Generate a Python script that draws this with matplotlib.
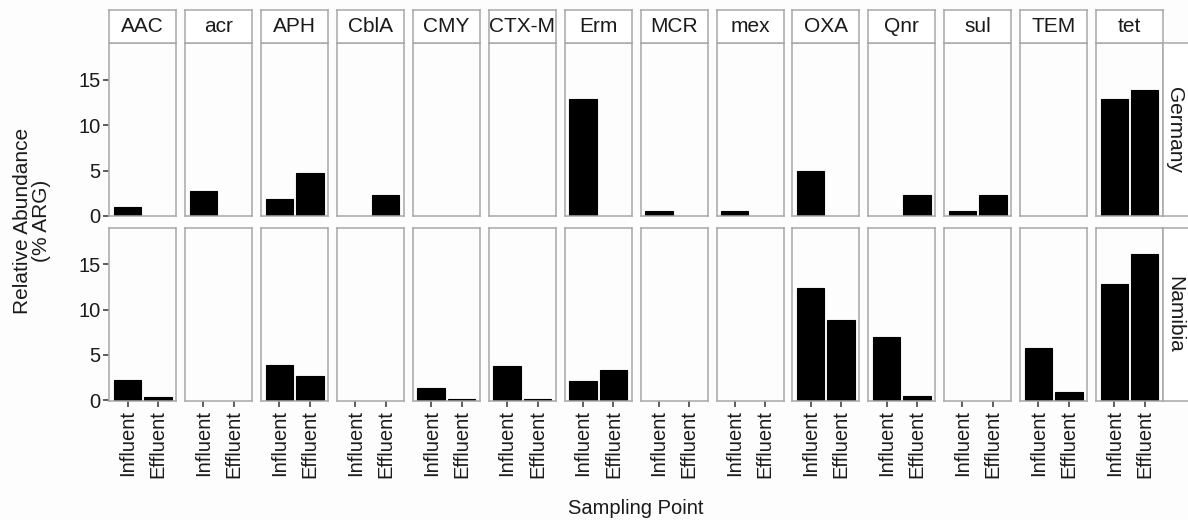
import matplotlib
matplotlib.use("Agg")
import matplotlib.pyplot as plt
from matplotlib.patches import Rectangle

plt.rcParams["font.family"] = ["Liberation Sans", "DejaVu Sans"]

# Gene families (facet columns) and sampling points (x categories)
genes = ["AAC", "acr", "APH", "CblA", "CMY", "CTX-M", "Erm",
         "MCR", "mex", "OXA", "Qnr", "sul", "TEM", "tet"]
points = ["Influent", "Effluent"]
countries = ["Germany", "Namibia"]

# Relative abundance (% ARG); None = not detected
germany_influent = [1.02, 2.74, 1.83, None, None, None, 12.88,
                    0.59, 0.59, 4.94, None, 0.59, None, 12.88]
germany_effluent = [None, None, 4.68, 2.34, None, None, None,
                    None, None, None, 2.34, 2.34, None, 13.87]
namibia_influent = [2.28, None, 3.93, None, 1.32, 3.79, 2.13,
                    None, None, 12.43, 6.99, None, 5.74, 12.8]
namibia_effluent = [0.37, None, 2.72, None, 0.11, 0.11, 3.38,
                    None, None, 8.9, 0.51, None, 0.92, 16.2]

data = {
    "Germany": (germany_influent, germany_effluent),
    "Namibia": (namibia_influent, namibia_effluent),
}
y_ticks = [0, 5, 10, 15]

W, H = 1188, 520
fig = plt.figure(figsize=(W / 100, H / 100), dpi=100)
fig.patch.set_facecolor("#fdfdfd")

border = "#a8a8a8"
ink = "#1a1a1a"
tick_fs = 14.5
strip_fs = 15


def rect(left, top, width, height):
    return [left / W, 1 - (top + height) / H, width / W, height / H]


x0, step, pw = 109.3, 75.9, 67.0
row_tops = [43.3, 227.7]
ph = 173.0
strip_h = 33.0

for r, country in enumerate(countries):
    infl, effl = data[country]
    for c, gene in enumerate(genes):
        left = x0 + c * step
        ax = fig.add_axes(rect(left, row_tops[r], pw, ph))
        ax.set_facecolor("#fdfdfd")
        vals = [infl[c], effl[c]]
        xs = [i + 1 for i, v in enumerate(vals) if v is not None]
        hs = [v for v in vals if v is not None]
        ax.bar(xs, hs, width=0.9, color="black", edgecolor="black",
               linewidth=0.8)
        ax.set_xlim(0.4, 2.6)
        ax.set_ylim(-0.05, 19.05)
        for s in ax.spines.values():
            s.set_color(border)
            s.set_linewidth(1.1)
        ax.set_xticks([1, 2])
        ax.set_yticks(y_ticks)
        ax.tick_params(length=4.5, width=1.1, color="#333333",
                       labelcolor=ink, labelsize=tick_fs, pad=2)
        if c == 0:
            ax.set_yticklabels([str(t) for t in y_ticks])
        else:
            ax.tick_params(axis="y", left=False, labelleft=False)
        if r == 1:
            ax.set_xticklabels(points, rotation=90, va="top", ha="center")
        else:
            ax.tick_params(axis="x", bottom=False, labelbottom=False)

        # column strip
        if r == 0:
            sax = fig.add_axes(rect(left, 10.0, pw, strip_h))
            sax.set_xticks([])
            sax.set_yticks([])
            sax.set_facecolor("white")
            for s in sax.spines.values():
                s.set_color(border)
                s.set_linewidth(1.1)
            sax.text(0.5, 0.5, gene, ha="center", va="center",
                     fontsize=strip_fs, color=ink, transform=sax.transAxes)

    # row strip on the right
    right = x0 + 13 * step + pw
    rax = fig.add_axes(rect(right, row_tops[r], 34.0, ph))
    rax.set_xticks([])
    rax.set_yticks([])
    rax.set_facecolor("white")
    for s in rax.spines.values():
        s.set_color(border)
        s.set_linewidth(1.1)
    rax.text(12.0 / 34.0, 0.5, country, rotation=-90, ha="center",
             va="center", fontsize=strip_fs, color=ink,
             transform=rax.transAxes)

# axis titles
fig.text(32 / W, 1 - 221 / H, "Relative Abundance\n(% ARG)", rotation=90,
         ha="center", va="center", multialignment="center",
         fontsize=15, color=ink, linespacing=0.95)
fig.text((x0 + 13 * step + pw + x0) / 2 / W, 1 - 508 / H, "Sampling Point",
         ha="center", va="center", fontsize=14.5, color=ink)

fig.savefig("out.png", dpi=100, facecolor=fig.get_facecolor())
